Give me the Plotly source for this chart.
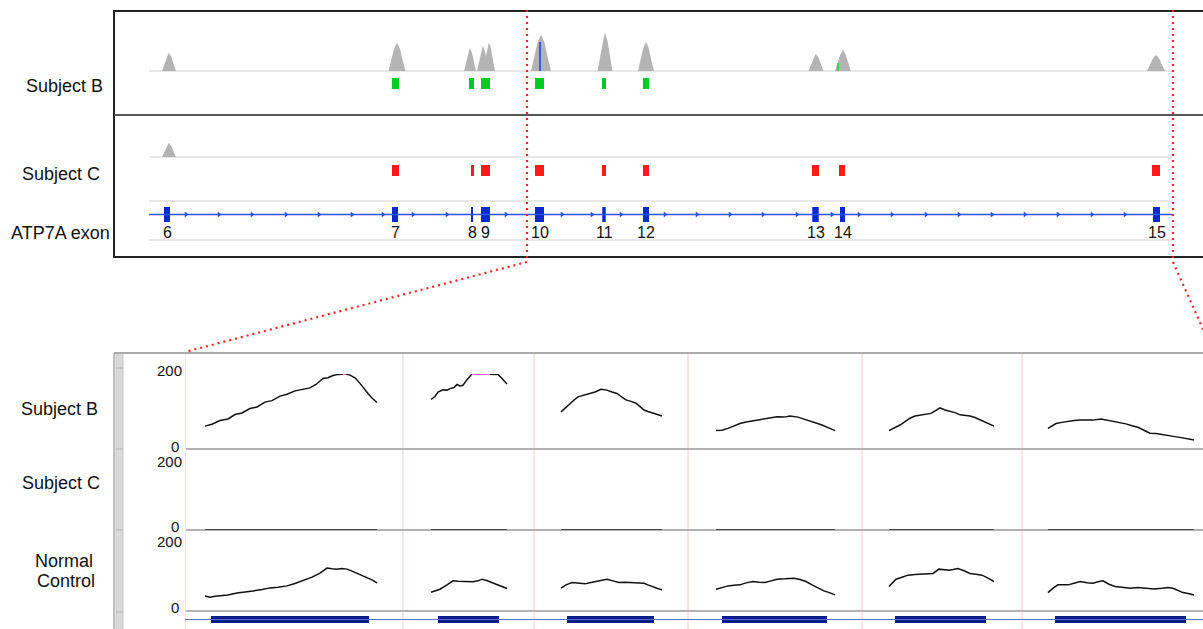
import plotly.graph_objects as go

W, H = 1203, 629
def px(x): return x / W
def py(y): return 1 - y / H

FONT = "Arial, Liberation Sans, sans-serif"

# ---------------- top panel (genomic position units) ----------------
exon_labels = ["6", "7", "8", "9", "10", "11", "12", "13", "14", "15"]
exon_center = [18, 246, 323, 336.5, 390.5, 455, 497, 666.5, 693.5, 1007.5]
exon_width = [6, 6, 2, 9, 9, 3.5, 6, 6.5, 5, 7]
intron_arrows = [37, 70, 103, 137, 170, 203, 234, 264, 298, 357, 413, 443, 472,
                 516, 548, 581, 614, 648, 683, 710, 743, 777, 810, 843, 876, 909, 943, 976]

subjB_call_center = [246.5, 322.5, 336.5, 390.5, 455, 497]
subjB_call_width = [7, 5, 9, 9, 4, 6]
subjC_call_center = [246.5, 323.5, 336.5, 390.5, 455, 497, 666.5, 693, 1007]
subjC_call_width = [7, 3, 9, 9, 4, 6, 7, 6, 8]

peakB_center = [20, 248, 321, 334, 340, 392, 456, 497, 667, 694, 1007]
peakB_height = [88, 137, 112, 122, 137, 176, 185, 141, 83, 102, 78]
peakB_halfw = [7, 8.5, 6, 6, 6, 10, 7.5, 8, 7.5, 8, 9]
peakC_center = [20]
peakC_height = [68]
peakC_halfw = [7]
peak_profile_offset = [-1, -0.65, -0.35, -0.1, 0, 0.1, 0.35, 0.65, 1]
peak_profile_level = [0, 0.4, 0.78, 0.95, 1, 0.95, 0.78, 0.4, 0]

variantB_blue = (391, 141)
variantB_green = (689, 39)

# ---------------- bottom panel (zoomed exons 10-15) ----------------
col_separators = [0, 218, 349, 503, 677, 837]
zoom_exon_center = [105, 283.5, 425.5, 589.5, 755.5, 935.5]
zoom_exon_width = [158, 61, 87, 105, 91, 131]

B_pos = [
    [20, 27, 35, 43, 50, 57, 65, 72, 80, 87, 95, 102, 110, 117, 125, 131, 138, 143, 148, 153, 158, 161, 165, 170, 175, 179, 183, 187, 192],
    [246, 250, 253, 258, 262, 265, 269, 272, 275, 278, 282, 285, 287, 293, 299, 305, 309, 313, 317, 322],
    [376, 383, 388, 393, 399, 404, 410, 416, 422, 427, 432, 437, 441, 446, 451, 455, 459, 463, 467, 472, 477],
    [531, 537, 543, 549, 555, 561, 568, 574, 580, 586, 592, 599, 605, 613, 619, 625, 631, 637, 643, 650],
    [704, 710, 715, 720, 725, 730, 736, 741, 746, 751, 755, 760, 764, 770, 775, 780, 785, 790, 795, 800, 803, 809],
    [863, 867, 871, 877, 883, 889, 895, 902, 908, 916, 922, 928, 935, 941, 947, 953, 959, 965, 971, 977, 983, 990, 995, 1000, 1005, 1009],
]
B_val = [
    [61, 66, 76, 80, 92, 96, 108, 112, 125, 129, 141, 146, 155, 158, 163, 172, 188, 190, 196, 199, 200, 200, 197, 190, 175, 160, 148, 136, 124],
    [132, 140, 152, 158, 157, 161, 164, 172, 168, 170, 185, 196, 200, 200, 200, 200, 199, 199, 188, 173],
    [99, 117, 128, 139, 143, 148, 152, 159, 157, 152, 148, 138, 131, 127, 122, 113, 104, 100, 97, 92, 88],
    [49, 50, 55, 62, 68, 72, 75, 79, 82, 83, 86, 85, 88, 85, 80, 75, 70, 64, 57, 49],
    [49, 56, 64, 73, 82, 88, 91, 93, 95, 103, 110, 104, 101, 97, 91, 90, 88, 84, 78, 72, 67, 61],
    [55, 62, 68, 71, 74, 76, 77, 76, 77, 80, 77, 73, 70, 67, 62, 58, 50, 42, 41, 38, 36, 33, 31, 29, 27, 24],
]
N_pos = [
    [20, 25, 30, 35, 43, 52, 60, 68, 77, 85, 93, 102, 110, 118, 127, 135, 142, 147, 152, 157, 162, 167, 172, 177, 182, 187, 192],
    [246, 251, 255, 262, 268, 273, 278, 283, 288, 293, 297, 301, 305, 309, 313, 318, 322],
    [376, 381, 387, 393, 400, 406, 412, 417, 422, 428, 434, 440, 447, 453, 459, 463, 467, 472, 477],
    [531, 537, 543, 549, 555, 561, 568, 574, 580, 586, 592, 600, 609, 615, 621, 627, 633, 639, 645, 650],
    [704, 708, 711, 717, 723, 730, 736, 742, 748, 754, 759, 764, 768, 773, 779, 785, 791, 797, 803, 809],
    [863, 868, 873, 878, 883, 889, 895, 902, 908, 913, 918, 924, 930, 937, 945, 953, 961, 969, 977, 983, 988, 993, 998, 1003, 1009],
]
N_val = [
    [45, 41, 44, 45, 48, 54, 56, 60, 64, 69, 71, 75, 82, 90, 101, 113, 128, 126, 125, 127, 125, 119, 113, 107, 101, 93, 84],
    [56, 60, 65, 78, 90, 89, 88, 86, 87, 90, 95, 92, 87, 83, 78, 72, 67],
    [68, 78, 85, 83, 81, 85, 88, 92, 95, 90, 85, 86, 85, 84, 83, 78, 73, 68, 63],
    [65, 71, 75, 77, 78, 84, 88, 86, 85, 90, 95, 96, 98, 94, 88, 78, 68, 60, 54, 48],
    [73, 86, 95, 101, 107, 109, 110, 111, 112, 125, 123, 122, 124, 127, 120, 112, 110, 107, 98, 88],
    [55, 68, 78, 77, 78, 83, 88, 84, 83, 87, 90, 80, 73, 71, 68, 70, 68, 66, 68, 70, 68, 62, 55, 52, 48],
]
C_val = [[0, 0] for _ in B_pos]
cov_max = 200


def joined(xs_list, ys_list):
    xs, ys = [], []
    for a, b in zip(xs_list, ys_list):
        xs += list(a) + [None]
        ys += list(b) + [None]
    return xs, ys


def peak_polygons(centers, heights, halfw):
    xs, ys = [], []
    for c, h, w in zip(centers, heights, halfw):
        for o, l in zip(peak_profile_offset, peak_profile_level):
            xs.append(c + o * w)
            ys.append(h * l)
        xs.append(None)
        ys.append(None)
    return xs, ys


fig = go.Figure()

# gray coverage peaks
bx, byv = peak_polygons(peakB_center, peakB_height, peakB_halfw)
fig.add_trace(go.Scatter(x=bx, y=byv, fill="toself", fillcolor="#b4b4b4", mode="lines",
                         line=dict(width=0, color="#b4b4b4"), xaxis="x", yaxis="y"))
cx, cyv = peak_polygons(peakC_center, peakC_height, peakC_halfw)
fig.add_trace(go.Scatter(x=cx, y=cyv, fill="toself", fillcolor="#b4b4b4", mode="lines",
                         line=dict(width=0, color="#b4b4b4"), xaxis="x", yaxis="y2"))
# variant ticks in coverage
fig.add_trace(go.Scatter(x=[variantB_blue[0]] * 2, y=[0, variantB_blue[1]], mode="lines",
                         line=dict(color="#3a5be8", width=2), xaxis="x", yaxis="y"))
fig.add_trace(go.Scatter(x=[variantB_green[0]] * 2, y=[0, variantB_green[1]], mode="lines",
                         line=dict(color="#22dd44", width=2), xaxis="x", yaxis="y"))

# calls
fig.add_trace(go.Bar(x=subjB_call_center, y=[1] * len(subjB_call_center), width=subjB_call_width,
                     base=0, marker=dict(color="#00cc22", line=dict(width=0)), xaxis="x", yaxis="y3"))
fig.add_trace(go.Bar(x=subjC_call_center, y=[1] * len(subjC_call_center), width=subjC_call_width,
                     base=0, marker=dict(color="#ff1a1a", line=dict(width=0)), xaxis="x", yaxis="y4"))

# gene track
fig.add_trace(go.Scatter(x=[0, 1023], y=[0.5, 0.5], mode="lines", line=dict(color="#2f52e0", width=1.5),
                         xaxis="x", yaxis="y5"))
fig.add_trace(go.Scatter(x=intron_arrows, y=[0.5] * len(intron_arrows), mode="markers",
                         marker=dict(symbol="triangle-right", size=5, color="#2f52e0"),
                         xaxis="x", yaxis="y5"))
fig.add_trace(go.Bar(x=exon_center, y=[1] * len(exon_center), width=exon_width, base=0,
                     marker=dict(color="#0a2acc", line=dict(width=0)), xaxis="x", yaxis="y5"))

# bottom panel curves
x1, y1 = joined(B_pos, B_val)
fig.add_trace(go.Scatter(x=x1, y=y1, mode="lines", line=dict(color="#111111", width=1.5),
                         xaxis="x2", yaxis="y6"))
# clipped (over-range) segments in pink
px_list, py_list = [], []
for pos, val in zip(B_pos, B_val):
    seg = [(p, v) for p, v in zip(pos, val) if v >= cov_max]
    if seg:
        px_list += [seg[0][0], seg[-1][0], None]
        py_list += [cov_max, cov_max, None]
fig.add_trace(go.Scatter(x=px_list, y=py_list, mode="lines", line=dict(color="#ff66dd", width=2),
                         xaxis="x2", yaxis="y6"))
cxs, cys = joined([[p[0], p[-1]] for p in B_pos], C_val)
fig.add_trace(go.Scatter(x=cxs, y=cys, mode="lines", line=dict(color="#222222", width=1.5),
                         xaxis="x2", yaxis="y7"))
x3, y3 = joined(N_pos, N_val)
fig.add_trace(go.Scatter(x=x3, y=y3, mode="lines", line=dict(color="#111111", width=1.5),
                         xaxis="x2", yaxis="y8"))
# bottom gene track
fig.add_trace(go.Scatter(x=[0, 1018], y=[0.5, 0.5], mode="lines", line=dict(color="#5570d0", width=1),
                         xaxis="x2", yaxis="y9"))
fig.add_trace(go.Bar(x=zoom_exon_center, y=[1] * len(zoom_exon_center), width=zoom_exon_width, base=0,
                     marker=dict(color="#0b1f8c", line=dict(width=0)), xaxis="x2", yaxis="y9"))

shapes = []
def pline(x0, y0, x1_, y1_, color, width, dash=None, layer="below"):
    d = dict(type="line", xref="paper", yref="paper", x0=px(x0), y0=py(y0), x1=px(x1_), y1=py(y1_),
             line=dict(color=color, width=width), layer=layer)
    if dash:
        d["line"]["dash"] = dash
    shapes.append(d)

# top panel frame
pline(114, 11, 1210, 11, "#222222", 2)
pline(114, 257, 1210, 257, "#222222", 2)
pline(114, 10, 114, 258, "#222222", 2)
pline(114, 115, 1210, 115, "#555555", 2)
for yy in [71, 157, 201, 240]:
    shapes.append(dict(type="line", xref="x", yref="paper", x0=0, x1=1023, y0=py(yy), y1=py(yy),
                       line=dict(color="#cfcfcf", width=1.2), layer="below"))

# bottom panel frame
shapes.append(dict(type="rect", xref="paper", yref="paper", x0=px(116), x1=px(123), y0=py(629), y1=py(353),
                   fillcolor="#dadada", line=dict(color="#c4c4c4", width=1), layer="below"))
for yy in [368, 449, 530, 612]:
    pline(116, yy, 123, yy, "#b0b0b0", 1)
pline(114, 353, 1210, 353, "#aaaaaa", 2)
pline(114, 353, 114, 629, "#aaaaaa", 1.5)
for c in col_separators:
    shapes.append(dict(type="line", xref="x2", yref="paper", x0=c, x1=c, y0=py(629), y1=py(354),
                       line=dict(color="#f6c8c8", width=1), layer="below"))
for yy in [449, 530, 611]:
    pline(186, yy, 1210, yy, "#9a9a9a", 1.5)

# red dotted zoom guides
RED = "#ff2020"
pline(527, 10, 527, 262, RED, 2.2, "2px,4px", "above")
pline(527, 262, 185, 352, RED, 2.2, "2px,4px", "above")
pline(1173, 10, 1173, 262, RED, 2.2, "2px,4px", "above")
pline(1173, 262, 1206, 336, RED, 2.2, "2px,4px", "above")

annotations = []
def label(text, x, y, size=18, xanchor="center"):
    annotations.append(dict(text=text, x=px(x), y=py(y), xref="paper", yref="paper", showarrow=False,
                            xanchor=xanchor, yanchor="middle", font=dict(family=FONT, size=size, color="#111111")))

label("Subject B", 64, 86)
label("Subject C", 61, 174)
label("ATP7A exon", 60, 233)
for lab, c in zip(exon_labels, exon_center):
    annotations.append(dict(text=lab, x=c, y=py(232), xref="x", yref="paper", showarrow=False,
                            xanchor="center", yanchor="middle", font=dict(family=FONT, size=16, color="#111111")))
label("Subject B", 59, 409)
label("Subject C", 61, 483)
label("Normal", 64, 561)
label("Control", 66, 581)
for y200, y0 in [(370, 447), (461, 526), (541, 607)]:
    label("200", 184, y200, 15, "right")
    label("0", 181, y0, 15, "right")

ax = dict(visible=False, fixedrange=True)
fig.update_layout(
    width=W, height=H, margin=dict(l=0, r=0, t=0, b=0),
    paper_bgcolor="white", plot_bgcolor="rgba(0,0,0,0)", showlegend=False, barmode="overlay",
    xaxis=dict(domain=[px(149), px(1172)], range=[0, 1023], anchor="y", **ax),
    yaxis=dict(domain=[py(71), py(30)], range=[0, 200], anchor="x", **ax),
    yaxis2=dict(domain=[py(157), py(116)], range=[0, 200], anchor="x", **ax),
    yaxis3=dict(domain=[py(89), py(78)], range=[0, 1], anchor="x", **ax),
    yaxis4=dict(domain=[py(176), py(165)], range=[0, 1], anchor="x", **ax),
    yaxis5=dict(domain=[py(222), py(207)], range=[0, 1], anchor="x", **ax),
    xaxis2=dict(domain=[px(185), 1.0], range=[0, 1018], anchor="y6", **ax),
    yaxis6=dict(domain=[py(449), py(374)], range=[0, 200], anchor="x2", **ax),
    yaxis7=dict(domain=[py(530), py(465)], range=[0, 200], anchor="x2", **ax),
    yaxis8=dict(domain=[py(611), py(544)], range=[0, 200], anchor="x2", **ax),
    yaxis9=dict(domain=[py(623), py(616)], range=[0, 1], anchor="x2", **ax),
    shapes=shapes, annotations=annotations,
)

fig.write_html("out.html", config={"displayModeBar": False},
               post_script="document.body.style.margin='0';document.body.style.overflow='hidden';")
